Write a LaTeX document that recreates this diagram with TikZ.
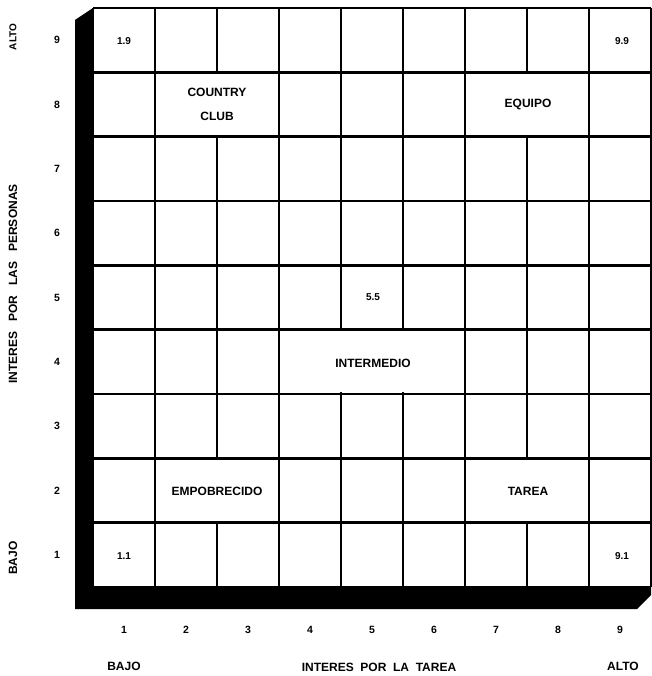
\documentclass[tikz,border=0pt]{standalone}
\usepackage{fontspec}
\setmainfont{Liberation Sans}
\tikzset{
  celltext/.style={font=\bfseries\fontsize{10}{11}\selectfont},
  zonetext/.style={font=\bfseries\fontsize{12}{24}\selectfont, align=center},
  axisnum/.style={font=\bfseries\fontsize{10.5}{12}\selectfont},
  axistext/.style={font=\bfseries\fontsize{12}{14}\selectfont},
}
\begin{document}
\begin{tikzpicture}[x=1pt,y=-1pt]
    \useasboundingbox (0,0) rectangle (651,676);
    % sombra del cuadro
    \fill (93,8) -- (75,20) -- (75,609) -- (637,609) -- (651,595) -- (651,587) -- cycle;
    \fill[white] (93,8) rectangle (651,587);

    \foreach \r in {0,...,9} {
        % lineas horizontales
        \draw[line width=2.5pt] (93,{8+64.33*\r}) -- (651,{8+64.33*\r});
      }
    \foreach \c in {0,...,9} {
        % lineas verticales
        \draw[line width=2.5pt] ({93+62*\c},8) -- ({93+62*\c},587);
      }
    \foreach \c/\r in {2/1, 7/1, 4/5, 5/5, 2/7, 7/7} {
        % zonas unidas: borrar la linea interior
        \fill[white] ({93+62*\c-2.5},{8+64.33*\r+1.5}) rectangle ({93+62*\c+2.5},{8+64.33*(\r+1)-1.5});
      }

    % esquinas y centro
    \node[celltext] (c19) at (124,41) {1.9};
    \node[celltext] (c99) at (622,41) {9.9};
    \node[celltext] (c55) at (373,297) {5.5};
    \node[celltext] (c11) at (124,556) {1.1};
    \node[celltext] (c91) at (622,556) {9.1};

    % estilos
    \node[zonetext] (country) at (217,104) {COUNTRY\\CLUB};
    \node[zonetext] (equipo) at (528,104) {EQUIPO};
    \node[zonetext] (intermedio) at (373,363) {INTERMEDIO};
    \node[zonetext] (empobrecido) at (217,491) {EMPOBRECIDO};
    \node[zonetext] (tarea) at (528,491) {TAREA};

    \foreach \n in {1,...,9} {
        % escalas
        \node[axisnum] (r\n) at (57,{8+64.33*(9-\n)+32.17}) {\n};
        \node[axisnum] (k\n) at ({93+62*(\n-1)+31},630) {\n};
      }

    % ejes
    \node[axistext, font=\bfseries\fontsize{10}{12}\selectfont, rotate=90] (altoY) at (13,37) {ALTO};
    \node[axistext, rotate=90] (bajoY) at (13,558) {BAJO};
    \node[axistext, rotate=90] (ejeY) at (13,284) {INTERES\ \ \ POR\ \ \ LAS\ \ \ PERSONAS};
    \node[axistext] (bajoX) at (124,666) {BAJO};
    \node[axistext] (altoX) at (623,666) {ALTO};
    \node[axistext] (ejeX) at (379,667) {INTERES\ \ POR\ \ LA\ \ TAREA};
\end{tikzpicture}
\end{document}
